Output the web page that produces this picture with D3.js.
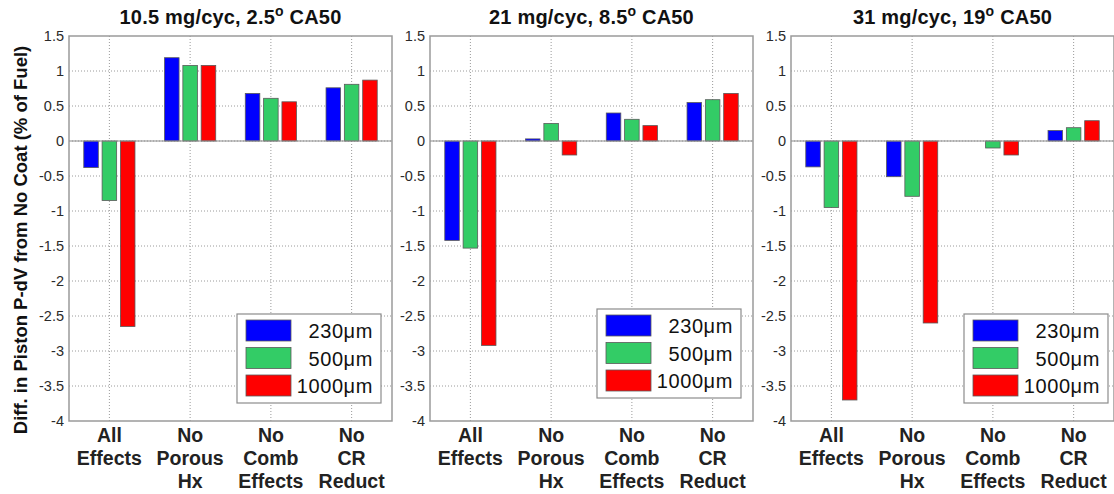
<!DOCTYPE html>
<html>
<head>
<meta charset="utf-8">
<script src="https://cdn.jsdelivr.net/npm/d3@7"></script>
<style>
  html, body { margin: 0; padding: 0; background: #fff; }
  svg { display: block; font-family: Arial, "Liberation Sans", Helvetica, sans-serif; }
</style>
</head>
<body>
<svg id="chart" width="1114" height="494"></svg>
<script>
// Cases shown across the three panels
const categories = [
  ["All", "Effects"],
  ["No", "Porous", "Hx"],
  ["No", "Comb", "Effects"],
  ["No", "CR", "Reduct"]
];
const seriesNames = ["230\u03bcm", "500\u03bcm", "1000\u03bcm"];
const seriesColors = ["#0000ff", "#33cc66", "#ff0000"];

const panelTitles = [
  { main: "10.5 mg/cyc, 2.5", tail: " CA50" },
  { main: "21 mg/cyc, 8.5", tail: " CA50" },
  { main: "31 mg/cyc, 19", tail: " CA50" }
];

// Difference in piston P-dV work, one row per category, one column per coating thickness
const panel1Values = [
  [-0.38, -0.85, -2.65],
  [1.19, 1.08, 1.08],
  [0.68, 0.61, 0.56],
  [0.76, 0.81, 0.87]
];
const panel2Values = [
  [-1.42, -1.53, -2.92],
  [0.03, 0.25, -0.20],
  [0.40, 0.31, 0.22],
  [0.55, 0.59, 0.68]
];
const panel3Values = [
  [-0.37, -0.95, -3.70],
  [-0.51, -0.79, -2.60],
  [0.00, -0.10, -0.20],
  [0.15, 0.19, 0.29]
];
const panelValues = [panel1Values, panel2Values, panel3Values];

const yTicks = [1.5, 1, 0.5, 0, -0.5, -1, -1.5, -2, -2.5, -3, -3.5, -4];
const yLabel = "Diff. in Piston P-dV from No Coat (% of Fuel)";

// Layout
const svg = d3.select("#chart");
const panelLeft = [69, 430, 791];
const panelW = 323;
const plotTop = 36, plotBottom = 421;
const legendPos = [
  { x: 237, y: 314 },
  { x: 597, y: 309 },
  { x: 964, y: 314 }
];

const y = d3.scaleLinear().domain([-4, 1.5]).range([plotBottom, plotTop]);

panelValues.forEach((vals, p) => {
  const x0 = panelLeft[p];
  const x = d3.scaleLinear().domain([0.5, 4.5]).range([x0, x0 + panelW]);
  const unit = x(1) - x(0);
  const g = svg.append("g");

  // Dotted grid
  g.append("g").selectAll("line")
    .data(yTicks.filter(t => t !== 1.5 && t !== -4))
    .join("line")
    .attr("x1", x0).attr("x2", x0 + panelW)
    .attr("y1", d => y(d)).attr("y2", d => y(d))
    .attr("stroke", "#9a9a9a").attr("stroke-width", 1)
    .attr("stroke-dasharray", "1,2");
  g.append("g").selectAll("line")
    .data(d3.range(1, 5))
    .join("line")
    .attr("x1", d => x(d)).attr("x2", d => x(d))
    .attr("y1", plotTop).attr("y2", plotBottom)
    .attr("stroke", "#9a9a9a").attr("stroke-width", 1)
    .attr("stroke-dasharray", "1,2");

  // Y axis ticks and labels
  const yAxis = d3.axisLeft(y).tickValues(yTicks).tickSize(0).tickPadding(5)
    .tickFormat(d => String(d));
  const ya = g.append("g").attr("transform", `translate(${x0},0)`).call(yAxis);
  ya.select(".domain").remove();
  ya.selectAll("text").attr("font-size", 14.5).attr("fill", "#2a2a2a")
    .attr("font-family", "Arial, 'Liberation Sans', sans-serif");

  // Bars
  const offsets = [-0.227, 0, 0.227];
  const bw = 0.18;
  vals.forEach((row, c) => {
    g.append("g").selectAll("rect")
      .data(row.map((v, s) => ({ v, s })).filter(d => d.v !== 0))
      .join("rect")
      .attr("x", d => x(c + 1 + offsets[d.s] - bw / 2))
      .attr("width", bw * unit)
      .attr("y", d => y(Math.max(0, d.v)))
      .attr("height", d => Math.abs(y(d.v) - y(0)))
      .attr("fill", d => seriesColors[d.s])
      .attr("stroke", "#5a5a5a").attr("stroke-width", 0.8);
  });

  // Baseline at zero
  g.append("line")
    .attr("x1", x0).attr("x2", x0 + panelW)
    .attr("y1", y(0)).attr("y2", y(0))
    .attr("stroke", "#8c8c8c").attr("stroke-width", 1.2);

  // Axes box
  g.append("rect")
    .attr("x", x0).attr("y", plotTop)
    .attr("width", panelW).attr("height", plotBottom - plotTop)
    .attr("fill", "none").attr("stroke", "#9a9a9a").attr("stroke-width", 1.5);

  // Category labels
  categories.forEach((lines, c) => {
    const t = g.append("text")
      .attr("x", x(c + 1)).attr("y", 442)
      .attr("text-anchor", "middle")
      .attr("font-size", 19.5).attr("font-weight", "bold").attr("fill", "#222");
    lines.forEach((ln, i) => {
      t.append("tspan").attr("x", x(c + 1)).attr("dy", i === 0 ? 0 : 23).text(ln);
    });
  });

  // Title with superscript degree mark
  const tt = g.append("text")
    .attr("x", x0 + panelW / 2).attr("y", 24)
    .attr("text-anchor", "middle")
    .attr("font-size", 20).attr("font-weight", "bold").attr("fill", "#111")
    .attr("letter-spacing", 0.2);
  tt.append("tspan").text(panelTitles[p].main);
  tt.append("tspan").attr("font-size", 14).attr("dy", -8).text("o");
  tt.append("tspan").attr("dy", 8).text(panelTitles[p].tail);

  // Legend
  const lp = legendPos[p];
  const lg = g.append("g").attr("transform", `translate(${lp.x},${lp.y})`);
  lg.append("rect").attr("width", 144).attr("height", 89)
    .attr("fill", "#fff").attr("stroke", "#8c8c8c").attr("stroke-width", 1.2);
  seriesNames.forEach((name, s) => {
    lg.append("rect")
      .attr("x", 9).attr("y", 6 + s * 27.5)
      .attr("width", 45).attr("height", 21)
      .attr("fill", seriesColors[s]).attr("stroke", "#5a5a5a").attr("stroke-width", 0.8);
    lg.append("text")
      .attr("x", 136).attr("y", 24 + s * 27.5)
      .attr("text-anchor", "end")
      .attr("font-size", 20).attr("letter-spacing", 0.6).attr("fill", "#111")
      .text(name);
  });
});

// Shared y axis title
svg.append("text")
  .attr("transform", `translate(27,240) rotate(-90)`)
  .attr("text-anchor", "middle")
  .attr("font-size", 18.5).attr("font-weight", "bold").attr("fill", "#111")
  .text(yLabel);
</script>
</body>
</html>
